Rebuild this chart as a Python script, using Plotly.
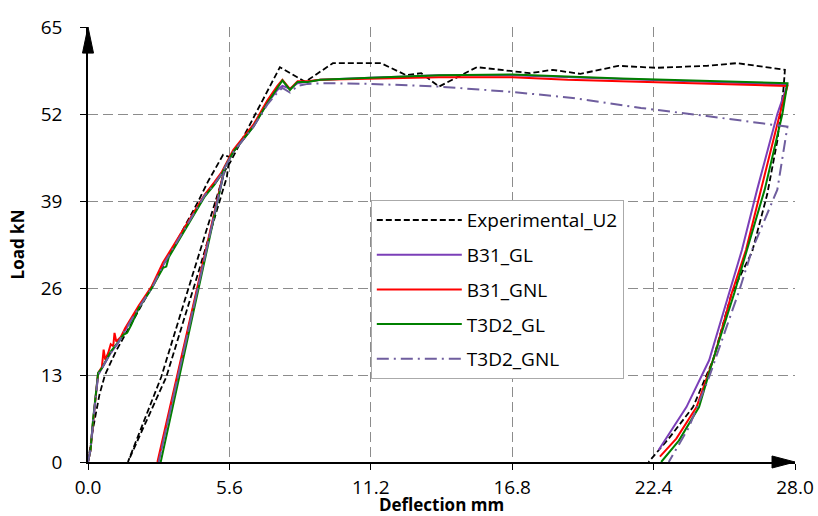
import plotly.graph_objects as go

# ---------------- data ----------------
x_ticks = [0.0, 5.6, 11.2, 16.8, 22.4, 28.0]
x_tick_labels = ["0.0", "5.6", "11.2", "16.8", "22.4", "28.0"]
y_ticks = [0, 13, 26, 39, 52, 65]
y_tick_labels = ["0", "13", "26", "39", "52", "65"]

exp_x = [0, 0.2, 0.45, 0.67, 1.1, 1.7, 2.5, 3.3, 4.36, 4.75, 5.35, 5.6, 5.5, 4.28, 3.1,
         1.58, 2.9, 4.08, 5.43, 5.62, 7.6, 8.6, 9.7, 11.6, 12.6, 13.2, 13.9, 15.4, 16.8,
         17.5, 18.4, 19.5, 21.0, 22.5, 24.5, 25.7, 27.6, 27.55, 27.3, 26.9, 26.3, 25.5,
         24.75, 23.96, 23.0, 22.2]
exp_y = [0, 5, 10, 13, 16.5, 20.5, 26, 31.5, 38.9, 41.9, 45.9, 45.6, 42.6, 27.2, 12.7,
         0, 12.7, 27.2, 43.6, 44.7, 59.0, 56.8, 59.6, 59.6, 57.8, 58.1, 56.1, 59.0, 58.4,
         58.1, 58.6, 58.0, 59.2, 58.9, 59.2, 59.6, 58.6, 56.0, 48.0, 40.0, 31.4, 25.3,
         15.2, 8.2, 3.5, 0]

b31_gl_x = [0, 0.1, 0.2, 0.4, 0.55, 0.7, 0.9, 1.19, 1.47, 2.0, 2.53, 2.97, 3.45, 3.9,
            4.24, 4.63, 5.0, 5.31, 5.43, 2.78, 5.43, 5.75, 6.55, 7.1, 7.5, 7.7, 8.0,
            8.3, 8.7, 9.2, 11.2, 13.9, 16.8, 19.0, 21.1, 27.7, 27.3, 26.5, 25.9, 25.4,
            24.6, 23.7, 23.0, 22.6]
b31_gl_y = [0, 1.8, 6, 13.0, 14.0, 15.0, 16.3, 17.8, 19.7, 23.0, 26.0, 29.4, 32.4, 35.2,
            37.4, 39.9, 41.5, 43.2, 44.1, 0, 44.1, 46.3, 50.1, 53.6, 55.6, 56.2, 55.8,
            56.6, 56.8, 57.1, 57.4, 57.8, 57.8, 57.5, 57.2, 56.4, 52.0, 40.7, 31.7, 25.3,
            15.2, 8.2, 4.0, 1.8]

b31_gnl_x = [0, 0.1, 0.2, 0.4, 0.55, 0.62, 0.68, 0.8, 0.9, 1.0, 1.05, 1.12, 1.3, 1.47,
             2.0, 2.53, 2.97, 3.45, 3.9, 4.24, 4.63, 5.0, 5.31, 5.43, 2.75, 5.43, 5.75,
             6.55, 7.1, 7.5, 7.7, 8.0, 8.3, 8.7, 9.2, 11.2, 13.9, 16.8, 19.0, 21.1, 27.7,
             27.4, 26.65, 26.06, 25.5, 24.8, 24.1, 23.3, 22.65]
b31_gnl_y = [0, 1.8, 6, 13.3, 14.2, 16.8, 15.3, 16.3, 17.6, 17.3, 19.3, 18.0, 18.7, 20.0,
             23.3, 26.3, 29.8, 32.7, 35.5, 37.6, 40.0, 41.8, 43.4, 44.3, 0, 44.3, 46.6,
             50.4, 54.0, 56.2, 57.1, 55.7, 56.9, 56.9, 57.1, 57.3, 57.5, 57.5, 57.1, 56.9,
             56.2, 52.0, 40.7, 31.7, 25.3, 15.7, 8.2, 3.5, 0.8]

t3d2_gl_x = [0, 0.1, 0.2, 0.4, 0.55, 0.7, 0.9, 1.19, 1.4, 1.55, 1.7, 2.0, 2.53, 2.97,
             3.1, 3.2, 3.45, 3.9, 4.24, 4.63, 5.0, 5.31, 5.43, 2.88, 5.43, 5.75, 6.55,
             7.1, 7.5, 7.7, 8.0, 8.3, 8.7, 9.2, 11.2, 13.9, 16.8, 19.0, 21.1, 27.7, 27.5,
             26.8, 26.1, 25.6, 24.75, 24.2, 23.4, 22.7]
t3d2_gl_y = [0, 1.8, 6.3, 13.3, 14.0, 15.0, 16.5, 17.9, 19.0, 19.3, 20.4, 22.9, 26.0, 29.0,
             29.2, 30.6, 32.2, 35.0, 37.2, 39.7, 41.4, 43.1, 44.1, 0, 44.1, 46.3, 50.1,
             53.6, 55.9, 57.0, 55.6, 56.8, 56.8, 57.1, 57.4, 57.8, 57.9, 57.6, 57.3, 56.6,
             52.0, 40.7, 31.7, 25.3, 15.2, 8.2, 3.2, 0]

t3d2_gnl_x = [0, 0.1, 0.2, 0.4, 0.55, 0.7, 0.9, 1.19, 1.47, 2.0, 2.53, 2.97, 3.45, 3.9,
              4.24, 4.63, 5.0, 5.31, 5.43, 2.8, 5.43, 5.75, 6.55, 7.1, 7.5, 7.7, 8.0, 8.3,
              8.7, 9.5, 11.2, 13.9, 16.8, 19.2, 21.9, 24.5, 27.7, 27.3, 26.3, 25.8, 24.6,
              23.8, 23.2, 23.0]
t3d2_gnl_y = [0, 1.8, 6, 13.0, 14.0, 15.0, 16.3, 17.8, 19.7, 23.0, 26.0, 29.4, 32.4, 35.2,
              37.4, 39.9, 41.5, 43.2, 44.1, 0, 44.1, 46.3, 50.1, 53.4, 55.2, 55.9, 55.2, 56.2,
              56.5, 56.6, 56.5, 56.1, 55.3, 54.4, 52.9, 51.7, 50.1, 40.7, 31.7, 25.7, 12.7,
              5.2, 1.3, 0]

series_names = ["Experimental_U2", "B31_GL", "B31_GNL", "T3D2_GL", "T3D2_GNL"]
series_x = [exp_x, b31_gl_x, b31_gnl_x, t3d2_gl_x, t3d2_gnl_x]
series_y = [exp_y, b31_gl_y, b31_gnl_y, t3d2_gl_y, t3d2_gnl_y]

# ---------------- styles ----------------
styles = [
    dict(color="#000000", width=1.8, dash="6px,3px"),
    dict(color="#7B3FB8", width=2, dash="solid"),
    dict(color="#FF0000", width=2, dash="solid"),
    dict(color="#008000", width=2, dash="solid"),
    dict(color="#6F5E9E", width=2, dash="12px,5px,2px,5px"),
]

FONT = "Open Sans, Noto Sans, DejaVu Sans, sans-serif"

fig = go.Figure()
for i, (name, xs, ys) in enumerate(zip(series_names, series_x, series_y)):
    fig.add_trace(go.Scatter(
        x=xs, y=ys, mode="lines", name=name, legendgroup=f"g{i}",
        line=styles[i],
    ))

grid_dash = "10px,5px"
fig.update_layout(
    width=818, height=516,
    margin=dict(l=88, r=23, t=27, b=54),
    paper_bgcolor="white", plot_bgcolor="white",
    font=dict(family=FONT, size=19, color="black"),
    showlegend=True,
    legend=dict(
        x=0.400, y=0.602, xanchor="left", yanchor="top",
        bgcolor="white", bordercolor="#AAAAAA", borderwidth=1,
        font=dict(family=FONT, size=19, color="black"),
        tracegroupgap=7, traceorder="grouped",
        itemwidth=85,
    ),
    xaxis=dict(
        range=[0, 28], tickmode="array", tickvals=x_ticks, ticktext=x_tick_labels,
        showgrid=True, gridcolor="#8C8C8C", gridwidth=1, griddash=grid_dash,
        zeroline=False, showline=True, linecolor="black", linewidth=1.5,
        ticks="outside", ticklen=6, tickcolor="black", tickwidth=1,
        ticklabelstandoff=1, automargin=False,
        tickfont=dict(family=FONT, size=19),
        title=dict(text="<b>Deflection mm</b>", font=dict(family=FONT, size=17),
                   standoff=6),
    ),
    yaxis=dict(
        range=[0, 65], tickmode="array", tickvals=y_ticks, ticktext=y_tick_labels,
        showgrid=True, gridcolor="#8C8C8C", gridwidth=1, griddash=grid_dash,
        zeroline=False, showline=True, linecolor="black", linewidth=1.5,
        ticks="outside", ticklen=6, tickcolor="black", tickwidth=1,
        ticklabelstandoff=14, automargin=False,
        tickfont=dict(family=FONT, size=19),
        title=dict(text="<b>Load kN</b>", font=dict(family=FONT, size=17),
                   standoff=12),
    ),
    shapes=[
        dict(type="path", xref="paper", yref="paper",
             path="M -0.0078,0.94 L 0,1 L 0.0078,0.94 Z",
             fillcolor="black", line=dict(color="black", width=1), layer="above"),
        dict(type="path", xref="paper", yref="paper",
             path="M 0.9675,-0.0138 L 1,0 L 0.9675,0.0138 Z",
             fillcolor="black", line=dict(color="black", width=1), layer="above"),
    ],
)

fig.write_html("out.html")
